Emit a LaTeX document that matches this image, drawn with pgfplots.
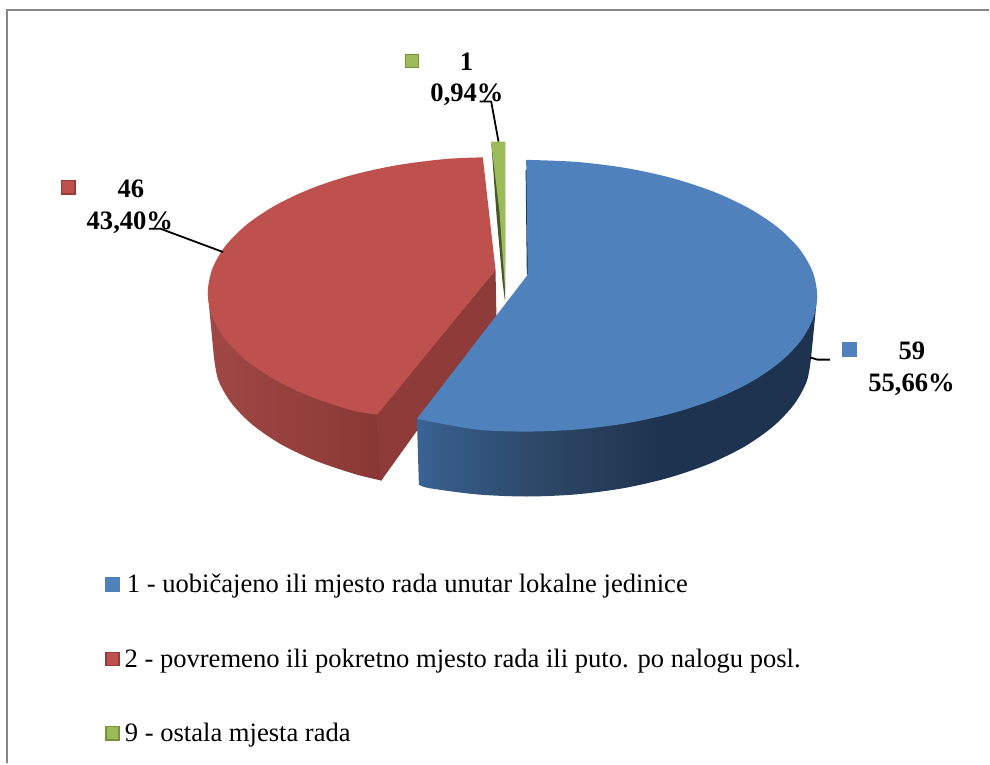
\documentclass[border=0pt]{standalone}
\usepackage{fontspec}
\setmainfont{Liberation Serif}
\usepackage{pgfplots}
\pgfplotsset{compat=1.18}
\definecolor{pblue}{HTML}{4F81BD}
\definecolor{pred}{HTML}{BE504D}
\definecolor{pgreen}{HTML}{9BBB59}
\definecolor{bredge}{HTML}{963A38}
\definecolor{bgreen}{HTML}{76923C}
\definecolor{framegrey}{HTML}{868686}
\definecolor{redwall}{HTML}{8E3B39}
\definecolor{greenwall}{HTML}{46582A}
\definecolor{bluewall}{HTML}{1D3350}
\definecolor{blue0}{HTML}{3A6494}
\definecolor{blue1}{HTML}{365C88}
\definecolor{blue2}{HTML}{2C4766}
\definecolor{blue3}{HTML}{263C59}
\definecolor{blue4}{HTML}{1D3350}
\definecolor{red0}{HTML}{A04845}
\definecolor{red1}{HTML}{984341}
\definecolor{red2}{HTML}{913D3A}
\definecolor{red3}{HTML}{883634}
\pgfdeclarehorizontalshading{blueside}{100bp}{color(0bp)=(blue0);color(25bp)=(blue0);color(28bp)=(blue1);color(41bp)=(blue2);color(49bp)=(blue3);color(55bp)=(blue4);color(100bp)=(blue4)}
\pgfdeclarehorizontalshading{redside}{100bp}{color(0bp)=(red0);color(25bp)=(red0);color(40bp)=(red1);color(60bp)=(red2);color(75bp)=(red3);color(100bp)=(red3)}
\newcommand{\lab}{\fontsize{26.6}{26.6}\selectfont\bfseries}
\newcommand{\leg}{\fontsize{26.6}{26.6}\selectfont}
\begin{document}
\begin{tikzpicture}
\begin{axis}[
  scale only axis, width=990pt, height=764pt,
  xmin=0, xmax=990, ymin=0, ymax=764, y dir=reverse,
  hide axis, clip=false,
  every node/.append style={inner sep=0pt, outer sep=0pt, text=black},
]
% page extent
\path (axis cs:0,0) rectangle (axis cs:990,764);
% frame
\addplot[framegrey, line width=2pt] coordinates {(7.3,764) (7.3,10) (990,10)};

% red slice: outer side, inner wall, top
\addplot[shade, shading=redside, draw=none, smooth] coordinates {
 (214,356) (218.3,379.8) (231.1,402.9) (251.9,424.5) (280.2,444.1) (315.1,460.9) (355.5,474.6) (381.7,481)}
 -- (377.7,415) -- (300,300) -- (208,293) -- cycle;
\addplot[redwall, fill=redwall, draw=none] coordinates {(496,270) (497,320) (381.7,481) (380.6,480.7) (376.7,415)} -- cycle;
\addplot[pred, fill=pred, draw=none, smooth] coordinates {
 (483.3,157.5) (446.8,159.1) (398.2,165.2) (352.5,175.2) (311.2,188.8) (275.6,205.6) (246.7,225) (225.4,246.5) (212.4,269.4) (208,293)
 (212.4,316.6) (225.4,339.5) (246.7,361) (275.6,380.4) (311.2,397.2) (352.5,410.8) (377.7,415)}
 -- (496,270) -- cycle;

% green slice: wall and top
\addplot[fill=greenwall, draw=none] coordinates {(491.7,141.7) (497,215) (503,282) (505.7,303) (505.7,200)} -- cycle;
\addplot[fill=pgreen, draw=none] coordinates {(491.7,141.7) (506,141.7) (505.7,292) (500,212) (492.5,150)} -- cycle;

% blue slice: outer side, sliver of wall, top
\addplot[shade, shading=blueside, draw=none, smooth] coordinates {
 (812,357) (807.7,381.3) (794.8,404.9) (773.8,427) (745.3,447) (710.2,464.2) (669.5,478.2) (624.5,488.6) (576.5,494.9) (527,497) (477.5,494.9) (429.5,488.6) (419.3,485)}
 -- (417.3,419.3) -- (527,330) -- (818,296) -- cycle;
\addplot[bluewall, line width=1.3pt] coordinates {(526.8,170) (528,275)};
\addplot[pblue, fill=pblue, draw=none, smooth] coordinates {
 (526.7,160) (577.5,162.1) (626.5,168.2) (672.5,178.2) (714,191.8) (749.9,208.6) (779,228) (800.5,249.5) (813.6,272.4) (818,296)
 (813.6,319.6) (800.5,342.5) (779,364) (749.9,383.4) (714,400.2) (672.5,413.8) (626.5,423.8) (577.5,429.9) (527,432) (476.5,429.9) (417.3,419.3)}
 -- (528.3,275) -- cycle;

% leader lines
\addplot[black, line width=1.8pt] coordinates {(480,101.7) (491.7,101.7) (499,141.7)};
\addplot[black, line width=1.8pt] coordinates {(149.3,229) (160.7,229) (223.3,252.3)};
\addplot[black, line width=1.8pt] coordinates {(810.7,357.7) (818.3,360) (830.7,360)};

% label keys and legend keys
\addplot[only marks, mark=square*, mark size=7pt, mark options={draw=pblue, fill=pblue, line width=0pt}] coordinates {(850,350) (113,585)};
\addplot[only marks, mark=square*, mark size=6.6pt, mark options={draw=bredge, fill=pred, line width=1.4pt}] coordinates {(68.3,187.5) (112.7,659.5)};
\addplot[only marks, mark=square*, mark size=6.6pt, mark options={draw=bgreen, fill=pgreen, line width=1.4pt}] coordinates {(412.3,61) (112.7,734)};

% data labels
\node[anchor=base] at (axis cs:467,70.7) {\lab 1};
\node[anchor=base] at (axis cs:467.5,101.7) {\lab 0,94\%};
\node[anchor=base] at (axis cs:131,197.7) {\lab 46};
\node[anchor=base] at (axis cs:130,229.3) {\lab 43,40\%};
\node[anchor=base] at (axis cs:912.8,360) {\lab 59};
\node[anchor=base] at (axis cs:912.5,391.7) {\lab 55,66\%};

% legend text
\node[anchor=base west] at (axis cs:123.5,592.7) {\leg 1 - uobičajeno ili mjesto rada unutar lokalne jedinice};
\node[anchor=base west] at (axis cs:121.2,668) {\leg 2 - povremeno ili pokretno mjesto rada ili puto. po nalogu posl.};
\node[anchor=base west] at (axis cs:121.5,742) {\leg 9 - ostala mjesta rada};
\end{axis}
\end{tikzpicture}
\end{document}
